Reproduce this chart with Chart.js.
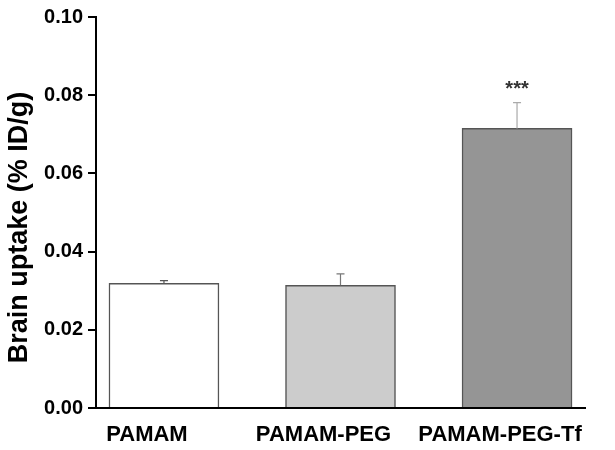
<!DOCTYPE html>
<html>
<head>
<meta charset="utf-8">
<script src="https://cdn.jsdelivr.net/npm/chart.js@4.4.0/dist/chart.umd.min.js"></script>
<style>
  html, body { margin: 0; padding: 0; background: #fff; }
  #wrap { width: 615px; height: 450px; }
</style>
</head>
<body>
<div id="wrap"><canvas id="myChart" width="615" height="450"></canvas></div>
<script>
// data
var categories = ['PAMAM', 'PAMAM-PEG', 'PAMAM-PEG-Tf'];
var positions = [1, 2, 3];
var uptake = [0.0319, 0.0314, 0.0715];
var uptakeErr = [0.0007, 0.0029, 0.0066];
var significance = ['', '', '***'];
var yTicks = [0, 0.02, 0.04, 0.06, 0.08, 0.10];

var fillColors = ['#ffffff', '#cccccc', '#959595'];
var errColors = ['#555555', '#777777', '#aaaaaa'];

var FONT = "'Liberation Sans', Arial, sans-serif";

// upper-only error bars + significance stars
var errorBars = {
  id: 'errorBars',
  afterDatasetsDraw: function(chart) {
    var ctx = chart.ctx;
    var xs = chart.scales.x, ys = chart.scales.y;
    ctx.save();
    for (var i = 0; i < uptake.length; i++) {
      var x = xs.getPixelForValue(positions[i]);
      var yTop = ys.getPixelForValue(uptake[i]);
      var yErr = ys.getPixelForValue(uptake[i] + uptakeErr[i]);
      ctx.strokeStyle = errColors[i];
      ctx.lineWidth = 1.2;
      ctx.beginPath();
      ctx.moveTo(x, yTop);
      ctx.lineTo(x, yErr);
      ctx.moveTo(x - 4, yErr);
      ctx.lineTo(x + 4, yErr);
      ctx.stroke();
      if (significance[i]) {
        ctx.fillStyle = '#333';
        ctx.font = 'bold 20px ' + FONT;
        ctx.textAlign = 'center';
        ctx.textBaseline = 'alphabetic';
        ctx.fillText(significance[i], x, yErr - 8);
      }
    }
    ctx.restore();
  }
};

var ctx = document.getElementById('myChart').getContext('2d');
var chart = new Chart(ctx, {
  type: 'bar',
  data: {
    datasets: [{
      data: positions.map(function(p, i) { return {x: p, y: uptake[i]}; }),
      backgroundColor: fillColors,
      borderColor: '#555555',
      borderWidth: 1.5,
      borderSkipped: 'bottom',
      barThickness: 110
    }]
  },
  options: {
    responsive: false,
    animation: false,
    devicePixelRatio: 1,
    layout: { padding: { top: 17, right: 30, left: 0, bottom: 0 } },
    plugins: {
      legend: { display: false },
      tooltip: { enabled: false }
    },
    scales: {
      x: {
        type: 'linear',
        offset: false,
        min: 0.615,
        max: 3.385,
        afterBuildTicks: function(scale) {
          scale.ticks = positions.map(function(v) { return {value: v}; });
        },
        afterFit: function(scale) {
          scale.height = 42;
          scale.paddingLeft = 0;
          scale.paddingRight = 0;
        },
        grid: { display: false, drawTicks: false },
        border: { display: true, color: '#000', width: 2 },
        ticks: {
          autoSkip: false,
          maxRotation: 0,
          padding: 14,
          labelOffset: -17,
          color: '#000',
          font: { family: FONT, size: 22, weight: 'bold' },
          callback: function(v) { return categories[positions.indexOf(v)] || ''; }
        }
      },
      y: {
        min: 0,
        max: 0.10,
        afterBuildTicks: function(scale) {
          scale.ticks = yTicks.map(function(v) { return {value: v}; });
        },
        afterFit: function(scale) { scale.width = 96; },
        grid: { drawOnChartArea: false, drawTicks: true, tickLength: 8, color: '#000', lineWidth: 2 },
        border: { display: true, color: '#000', width: 2 },
        title: {
          display: true,
          text: 'Brain uptake (% ID/g)    ',
          color: '#000',
          padding: { top: 3, bottom: 2 },
          font: { family: FONT, size: 27, weight: 'bold' }
        },
        ticks: {
          padding: 5,
          color: '#000',
          font: { family: FONT, size: 20, weight: 'bold' },
          callback: function(v) { return v.toFixed(2); }
        }
      }
    }
  },
  plugins: [errorBars]
});
</script>
</body>
</html>
